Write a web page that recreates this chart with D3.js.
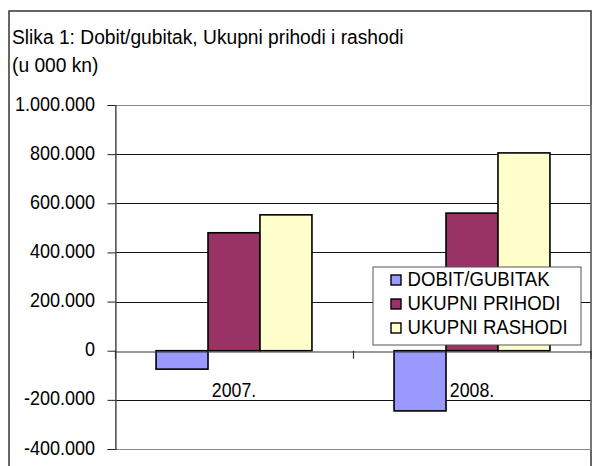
<!DOCTYPE html>
<html>
<head>
<meta charset="utf-8">
<script src="https://cdn.jsdelivr.net/npm/d3@7"></script>
<style>
  html, body { margin: 0; padding: 0; background: #fff; }
  svg { display: block; }
  text { font-family: Arial, "Liberation Sans", sans-serif; fill: #000; }
</style>
</head>
<body>
<svg id="chart" width="592" height="466"></svg>
<script>
const categories = ["2007.", "2008."];
const seriesNames = ["DOBIT/GUBITAK", "UKUPNI PRIHODI", "UKUPNI RASHODI"];
const dobitGubitak = [-75000, -245000];
const ukupniPrihodi = [480000, 560000];
const ukupniRashodi = [553000, 805000];
const yTickValues = [-400000, -200000, 0, 200000, 400000, 600000, 800000, 1000000];
const titleLine1 = "Slika 1: Dobit/gubitak, Ukupni prihodi i rashodi";
const titleLine2 = "(u 000 kn)";
const colors = ["#9999FF", "#993366", "#FFFFCC"];

const seriesValues = [dobitGubitak, ukupniPrihodi, ukupniRashodi];
const SX = 0.92; // horizontal text compression
const FS = 20;

const svg = d3.select("#chart");

// outer frame
svg.append("rect").attr("x", 9).attr("y", 11).attr("width", 582).attr("height", 470)
  .attr("fill", "#fff").attr("stroke", "#333").attr("stroke-width", 1.5);

function addText(x, y, str, anchor, sx) {
  const g = svg.append("g").attr("transform", `translate(${x},${y}) scale(${sx || SX},1)`);
  return g.append("text").attr("x", 0).attr("y", 0)
    .attr("text-anchor", anchor || "start")
    .attr("font-size", FS).text(str);
}

addText(12, 43.5, titleLine1, "start", 0.915).attr("font-size", 21);
addText(12, 72, titleLine2, "start", 0.915).attr("font-size", 21);

const plot = { left: 115, right: 591, top: 105, bottom: 449 };

const y = d3.scaleLinear().domain([-400000, 1000000]).range([plot.bottom, plot.top]);
const x0 = d3.scaleBand().domain(categories).range([plot.left, plot.right]).paddingInner(0).paddingOuter(0);
const x1 = d3.scaleBand().domain(seriesNames).range([0, x0.bandwidth()]).paddingInner(0).paddingOuter(0.79);

const fmt = v => d3.format(",")(v).replace(/,/g, ".").replace("−", "-");

// gridlines
svg.append("g").selectAll("line").data(yTickValues.filter(v => v !== -400000 && v !== 1000000 && v !== 0))
  .join("line")
  .attr("x1", plot.left).attr("x2", plot.right)
  .attr("y1", d => Math.round(y(d)) + 0.5).attr("y2", d => Math.round(y(d)) + 0.5)
  .attr("stroke", "#111").attr("stroke-width", 1);

// plot area border (gray)
svg.append("rect").attr("x", plot.left + 0.5).attr("y", Math.round(plot.top) + 0.5)
  .attr("width", plot.right - plot.left - 0.5).attr("height", plot.bottom - plot.top)
  .attr("fill", "none").attr("stroke", "#888").attr("stroke-width", 1);

// y axis via d3
const yAxis = d3.axisLeft(y).tickValues(yTickValues).tickSize(8).tickFormat(() => "");
const yg = svg.append("g").attr("transform", `translate(${plot.left + 0.5},0)`).call(yAxis);
yg.select(".domain").attr("stroke", "#444").attr("stroke-width", 1.2);
yg.selectAll(".tick line").attr("stroke", "#222");

// tick labels
yTickValues.forEach(v => {
  addText(95, y(v) + 5.5, fmt(v), "end", 0.91).attr("font-size", 19.8);
});

// bars
const groups = svg.append("g").selectAll("g").data(categories).join("g")
  .attr("transform", d => `translate(${x0(d)},0)`);
groups.selectAll("rect")
  .data((c, ci) => seriesNames.map((s, si) => ({ s, si, v: seriesValues[si][ci] })))
  .join("rect")
  .attr("x", d => x1(d.s))
  .attr("width", x1.bandwidth())
  .attr("y", d => Math.min(y(d.v), y(0)))
  .attr("height", d => Math.abs(y(d.v) - y(0)))
  .attr("fill", d => colors[d.si])
  .attr("stroke", "#000").attr("stroke-width", 1.6);

// category axis at zero
const xAxis = d3.axisBottom(x0).tickSize(0).tickFormat(() => "");
const xg = svg.append("g").attr("transform", `translate(0,${Math.round(y(0)) + 0.5})`).call(xAxis);
xg.select(".domain").attr("stroke", "#333").attr("stroke-width", 1.2);
// category boundary ticks
const bounds = [plot.left, x0(categories[1]), plot.right - 0.5];
svg.append("g").selectAll("line").data(bounds).join("line")
  .attr("x1", d => d + 0.5).attr("x2", d => d + 0.5)
  .attr("y1", y(0)).attr("y2", y(0) + 8)
  .attr("stroke", "#333").attr("stroke-width", 1.2);

// category labels
categories.forEach((c, i) => {
  addText(x0(c) + x0.bandwidth() / 2, 396.5, c, "middle", 0.91).attr("font-size", 19.5);
});

// legend
const lg = svg.append("g");
lg.append("rect").attr("x", 373).attr("y", 267).attr("width", 208).attr("height", 78)
  .attr("fill", "#fff").attr("stroke", "#555").attr("stroke-width", 1);
seriesNames.forEach((s, i) => {
  const cy = 280 + i * 24;
  lg.append("rect").attr("x", 391).attr("y", cy - 5).attr("width", 10).attr("height", 10)
    .attr("fill", colors[i]).attr("stroke", "#000").attr("stroke-width", 1.4);
  addText(407.5, cy + 5.5, s, "start", 0.93).attr("font-size", 20);
});
</script>
</body>
</html>
